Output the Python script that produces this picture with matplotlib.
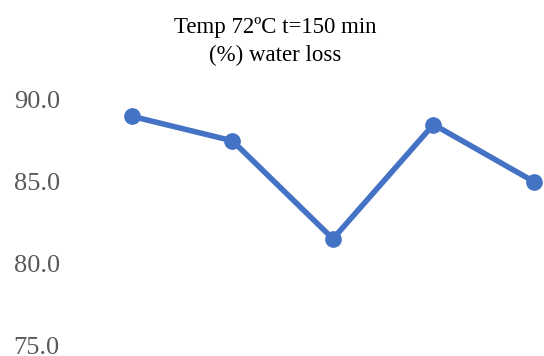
import matplotlib.pyplot as plt

# water loss (%) per sample, 72 ºC for 150 min
samples = [1, 2, 3, 4, 5]
water_loss = [89.0, 87.5, 81.5, 88.5, 85.0]
y_ticks = [75.0, 80.0, 85.0, 90.0]

plt.rcParams['font.family'] = ['Liberation Serif', 'DejaVu Serif']

W, H = 544, 356
fig = plt.figure(figsize=(W / 100, H / 100), dpi=100)
# axes box in pixel terms: left 82, right edge of figure, 75 at y=345, 90 at y=100
left, right = 82, 544
bottom, top = 345, 100
ax = fig.add_axes([left / W, 1 - bottom / H, (right - left) / W, (bottom - top) / H])

ax.plot(samples, water_loss, color='#4472C4', linewidth=4.0,
        marker='o', markersize=11, clip_on=False, zorder=3)

ax.set_xlim(0.5025, 5.1)
ax.set_ylim(75, 90)
ax.set_yticks(y_ticks)
ax.set_yticklabels(['{:.1f}'.format(v) for v in y_ticks])
ax.set_xticks([])
ax.tick_params(axis='y', length=0, labelsize=19, labelcolor='#595959', pad=16)
for side in ax.spines.values():
    side.set_visible(False)

fig.text(275 / W, 1 - 27 / H, 'Temp 72ºC t=150 min', ha='center', va='center',
         fontsize=16.5, color='#000000')
fig.text(275 / W, 1 - 55 / H, '(%) water loss', ha='center', va='center',
         fontsize=16.5, color='#000000')

fig.savefig('out.png', dpi=100, facecolor='white')
